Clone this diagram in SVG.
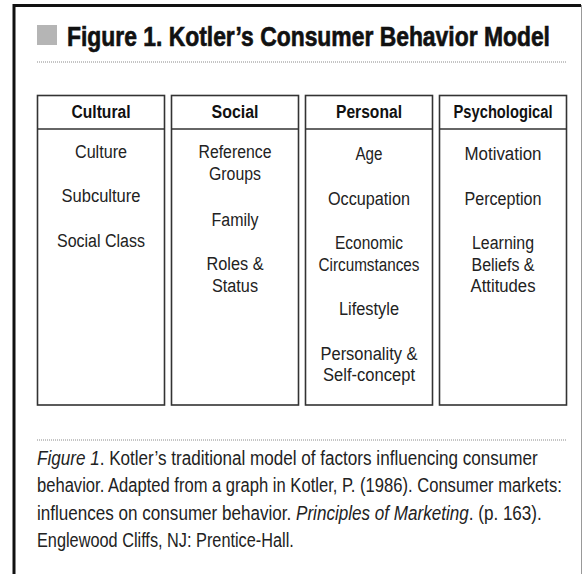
<svg xmlns="http://www.w3.org/2000/svg" width="584" height="574" viewBox="0 0 584 574">
  <style>
    .frame { stroke: #111; stroke-width: 3; fill: none; }
    .edge { stroke: #999; stroke-width: 1; fill: none; }
    .rule { stroke: #8a8a8a; stroke-width: 1; stroke-dasharray: 1 1; fill: none; }
    .box { fill: #fff; stroke: #333; stroke-width: 1.6; }
    .sep { stroke: #333; stroke-width: 1.6; }
    .title { font-family: "Liberation Sans", Arial, sans-serif; font-weight: bold; font-size: 27.5px; fill: #111; stroke: #111; stroke-width: 0.65; }
    .head { font-family: "Liberation Sans", Arial, sans-serif; font-weight: bold; font-size: 17.5px; fill: #111; text-anchor: middle; }
    .item { font-family: "Liberation Sans", Arial, sans-serif; font-size: 18px; fill: #222; text-anchor: middle; }
    .cap { font-family: "Liberation Sans", Arial, sans-serif; font-size: 21px; fill: #222; }
    .it { font-style: italic; }
  </style>

  <rect width="584" height="574" fill="#fff"/>

  <!-- page frame -->
  <path class="frame" d="M14 574 V5.5 H581"/>
  <path class="edge" d="M581.5 5 V574"/>

  <!-- heading (condensed by a horizontal scale) -->
  <rect x="37" y="25" width="20" height="20" fill="#b5b5b5"/>
  <text class="title" transform="translate(67 45.5) scale(0.832 1)" x="0" y="0" textLength="580.5" lengthAdjust="spacingAndGlyphs">Figure 1. Kotler’s Consumer Behavior Model</text>
  <line class="rule" x1="37" y1="62" x2="566" y2="62"/>

  <!-- factor columns -->
  <g id="cultural">
    <rect class="box" x="37.5" y="95.5" width="127" height="309.5"/>
    <line class="sep" x1="37.5" y1="129" x2="164.5" y2="129"/>
    <text class="head" x="101" y="117.5" textLength="59" lengthAdjust="spacingAndGlyphs">Cultural</text>
    <text class="item" x="101" y="157.5" textLength="52" lengthAdjust="spacingAndGlyphs">Culture</text>
    <text class="item" x="101" y="202" textLength="79" lengthAdjust="spacingAndGlyphs">Subculture</text>
    <text class="item" x="101" y="246.5" textLength="88" lengthAdjust="spacingAndGlyphs">Social Class</text>
  </g>

  <g id="social">
    <rect class="box" x="171.5" y="95.5" width="127" height="309.5"/>
    <line class="sep" x1="171.5" y1="129" x2="298.5" y2="129"/>
    <text class="head" x="235" y="117.5" textLength="47" lengthAdjust="spacingAndGlyphs">Social</text>
    <text class="item" x="235" y="158" textLength="73" lengthAdjust="spacingAndGlyphs">Reference</text>
    <text class="item" x="235" y="180" textLength="52" lengthAdjust="spacingAndGlyphs">Groups</text>
    <text class="item" x="235" y="225.5" textLength="47" lengthAdjust="spacingAndGlyphs">Family</text>
    <text class="item" x="235" y="270" textLength="57" lengthAdjust="spacingAndGlyphs">Roles &amp;</text>
    <text class="item" x="235" y="292" textLength="46" lengthAdjust="spacingAndGlyphs">Status</text>
  </g>

  <g id="personal">
    <rect class="box" x="305.5" y="95.5" width="127" height="309.5"/>
    <line class="sep" x1="305.5" y1="129" x2="432.5" y2="129"/>
    <text class="head" x="369" y="117.5" textLength="66" lengthAdjust="spacingAndGlyphs">Personal</text>
    <text class="item" x="369" y="160" textLength="27" lengthAdjust="spacingAndGlyphs">Age</text>
    <text class="item" x="369" y="204.5" textLength="82" lengthAdjust="spacingAndGlyphs">Occupation</text>
    <text class="item" x="369" y="249" textLength="68" lengthAdjust="spacingAndGlyphs">Economic</text>
    <text class="item" x="369" y="270.5" textLength="101" lengthAdjust="spacingAndGlyphs">Circumstances</text>
    <text class="item" x="369" y="315" textLength="60" lengthAdjust="spacingAndGlyphs">Lifestyle</text>
    <text class="item" x="369" y="359.5" textLength="97" lengthAdjust="spacingAndGlyphs">Personality &amp;</text>
    <text class="item" x="369" y="381" textLength="92" lengthAdjust="spacingAndGlyphs">Self-concept</text>
  </g>

  <g id="psychological">
    <rect class="box" x="439.5" y="95.5" width="127" height="309.5"/>
    <line class="sep" x1="439.5" y1="129" x2="566.5" y2="129"/>
    <text class="head" x="503" y="117.5" textLength="99" lengthAdjust="spacingAndGlyphs">Psychological</text>
    <text class="item" x="503" y="160" textLength="77" lengthAdjust="spacingAndGlyphs">Motivation</text>
    <text class="item" x="503" y="204.5" textLength="77" lengthAdjust="spacingAndGlyphs">Perception</text>
    <text class="item" x="503" y="249" textLength="62" lengthAdjust="spacingAndGlyphs">Learning</text>
    <text class="item" x="503" y="270.5" textLength="63" lengthAdjust="spacingAndGlyphs">Beliefs &amp;</text>
    <text class="item" x="503" y="292" textLength="65" lengthAdjust="spacingAndGlyphs">Attitudes</text>
  </g>

  <!-- no connectors between the columns -->
  <g id="connectors"/>

  <!-- caption (condensed by a horizontal scale) -->
  <line class="rule" x1="37" y1="440" x2="566" y2="440"/>
  <text class="cap" transform="translate(37 465) scale(0.8 1)" x="0" y="0" textLength="626" lengthAdjust="spacingAndGlyphs"><tspan class="it">Figure 1</tspan>. Kotler’s traditional model of factors influencing consumer</text>
  <text class="cap" transform="translate(37 492.3) scale(0.8 1)" x="0" y="0" textLength="656" lengthAdjust="spacingAndGlyphs">behavior. Adapted from a graph in Kotler, P. (1986). Consumer markets:</text>
  <text class="cap" transform="translate(37 519.6) scale(0.8 1)" x="0" y="0" textLength="631" lengthAdjust="spacingAndGlyphs">influences on consumer behavior. <tspan class="it">Principles of Marketing</tspan>. (p. 163).</text>
  <text class="cap" transform="translate(37 546.9) scale(0.8 1)" x="0" y="0" textLength="321" lengthAdjust="spacingAndGlyphs">Englewood Cliffs, NJ: Prentice-Hall.</text>
</svg>
